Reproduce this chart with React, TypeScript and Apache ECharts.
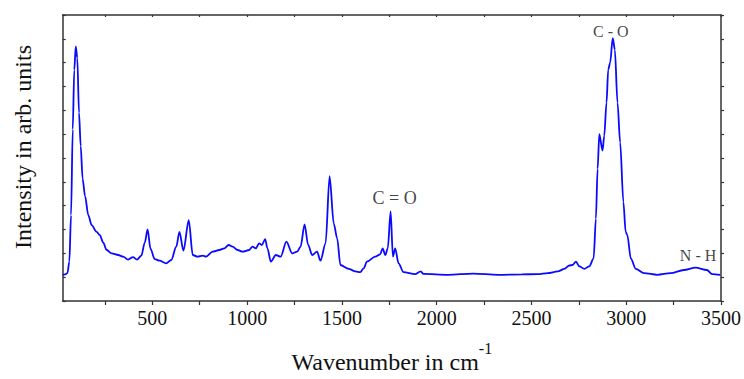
import React, { useEffect, useRef } from "react";
import * as echarts from "echarts";

const wavenumber = [
  27, 40, 52, 62, 71, 80, 88, 96, 104, 113, 122, 132, 145, 162, 180, 206, 223, 241, 258, 285,
  320, 346, 372, 398, 419, 442, 460, 475, 490, 512, 538, 573, 600, 626, 643, 664, 692, 713, 739, 766,
  783, 818, 853, 880, 902, 923, 950, 976, 1011, 1028, 1046, 1063, 1078, 1095, 1107, 1125, 1151, 1177, 1207, 1238,
  1264, 1282, 1303, 1322, 1343, 1369, 1387, 1414, 1435, 1457, 1475, 1492, 1536, 1571, 1597, 1615, 1632, 1676, 1702, 1715,
  1729, 1742, 1757, 1769, 1781, 1799, 1825, 1886, 1916, 1930, 2061, 2193, 2324, 2450, 2534, 2586, 2639, 2674, 2700, 2717,
  2735, 2753, 2779, 2805, 2828, 2840, 2849, 2858, 2875, 2884, 2896, 2905, 2915, 2929, 2940, 2954, 2968, 2985, 2997, 3006,
  3024, 3050, 3094, 3164, 3234, 3304, 3365, 3426, 3453, 3496,
];

const intensity = [
  1.1, 1.12, 1.17, 1.65, 3.6, 7.2, 9.7, 10.68, 10.2, 7.9, 6.5, 5.13, 4.4, 3.6, 3.18, 2.9, 2.76, 2.45, 2.15, 2.0,
  1.93, 1.86, 1.74, 1.84, 1.74, 1.9, 2.45, 3.0, 2.2, 1.76, 1.69, 1.58, 1.72, 2.28, 2.9, 2.11, 3.39, 1.93, 1.86, 1.9,
  1.86, 2.07, 2.14, 2.21, 2.35, 2.28, 2.14, 2.07, 2.14, 2.28, 2.21, 2.42, 2.35, 2.6, 2.21, 1.65, 1.93, 1.86, 2.49, 2.0,
  2.07, 2.28, 3.21, 2.35, 1.93, 2.07, 1.69, 2.42, 5.24, 3.25, 2.63, 1.51, 1.35, 1.24, 1.21, 1.37, 1.65, 1.86, 1.96, 2.21,
  1.93, 2.21, 3.76, 1.86, 2.21, 1.58, 1.21, 1.125, 1.24, 1.14, 1.1, 1.15, 1.1, 1.12, 1.125, 1.17, 1.24, 1.35, 1.49, 1.51,
  1.65, 1.45, 1.35, 1.45, 1.79, 3.46, 5.54, 7.0, 6.31, 6.93, 8.32, 9.71, 9.99, 11.03, 10.54, 8.32, 6.65, 4.15, 2.9, 2.76,
  1.79, 1.35, 1.17, 1.1, 1.17, 1.3, 1.4, 1.3, 1.125, 1.1,
];

const xTickValues = [250, 500, 750, 1000, 1250, 1500, 1750, 2000, 2250, 2500, 2750, 3000, 3250, 3500];
const xLabelValues = [500, 1000, 1500, 2000, 2500, 3000, 3500];

const annotationNames = ["C = O", "C - O", "N - H"];
const annotationX = [1778, 2919, 3379];
const annotationY = [4.31, 11.31, 1.89];
const annotationSize = [18, 16, 16];

const FONT = "Liberation Serif";
const AXIS_COLOR = "#333";

export default function App() {
  const ref = useRef<HTMLDivElement>(null);

  useEffect(() => {
    if (!ref.current) return;
    const chart = echarts.init(ref.current, undefined, { renderer: "svg" });
    const lineData = wavenumber.map((w, i) => [w, intensity[i]]);
    const annData = annotationNames.map((n, i) => ({
      name: n,
      value: [annotationX[i], annotationY[i]],
      label: { fontSize: annotationSize[i] },
    }));

    const axisLine = { show: true, onZero: false, lineStyle: { color: AXIS_COLOR, width: 1.5 } };

    chart.setOption({
      animation: false,
      textStyle: { fontFamily: FONT },
      grid: { left: 62.7, right: 20, top: 15, bottom: 76, containLabel: false },
      xAxis: [
        {
          type: "value",
          min: 27,
          max: 3500,
          position: "bottom",
          name: "{a|Wavenumber in cm}{b|-1}",
          nameLocation: "middle",
          nameGap: 39,
          nameTextStyle: {
            fontFamily: FONT,
            color: "#111",
            rich: {
              a: { fontSize: 24, fontFamily: FONT, color: "#111", lineHeight: 24, verticalAlign: "bottom" },
              b: { fontSize: 16, fontFamily: FONT, color: "#111", lineHeight: 34, verticalAlign: "top" },
            },
          },
          axisLine,
          axisTick: { show: true, inside: false, length: 4, customValues: xTickValues, lineStyle: { color: AXIS_COLOR, width: 1.2 } },
          axisLabel: {
            show: true,
            customValues: xLabelValues,
            fontSize: 20,
            fontFamily: FONT,
            color: "#111",
            margin: 7,
            formatter: (v: number) => String(v),
          },
          splitLine: { show: false },
        },
        {
          type: "value",
          min: 27,
          max: 3500,
          position: "top",
          axisLine,
          axisTick: { show: true, inside: true, length: 2, customValues: xTickValues, lineStyle: { color: AXIS_COLOR, width: 1.2 } },
          axisLabel: { show: false },
          splitLine: { show: false },
        },
      ],
      yAxis: [
        {
          type: "value",
          min: 0,
          max: 12,
          interval: 1,
          position: "left",
          name: "Intensity in arb. units",
          nameLocation: "middle",
          nameRotate: 90,
          nameGap: 28,
          nameTextStyle: {
            fontSize: 24,
            fontFamily: FONT,
            color: "#111",
            padding: [0, 0, 0, 22],
          },
          axisLine,
          axisTick: { show: true, inside: true, length: 3, lineStyle: { color: AXIS_COLOR, width: 1.2 } },
          axisLabel: { show: false },
          splitLine: { show: false },
        },
        {
          type: "value",
          min: 0,
          max: 12,
          interval: 1,
          position: "right",
          axisLine,
          axisTick: { show: true, inside: false, length: 3, lineStyle: { color: AXIS_COLOR, width: 1.2 } },
          axisLabel: { show: false },
          splitLine: { show: false },
        },
      ],
      series: [
        {
          type: "line",
          data: lineData,
          showSymbol: false,
          smooth: 0.3,
          smoothMonotone: "x",
          lineStyle: { color: "#0a0aff", width: 1.8 },
          z: 3,
        },
        {
          type: "scatter",
          data: annData,
          symbolSize: 0,
          itemStyle: { color: "rgba(0,0,0,0)" },
          silent: true,
          label: {
            show: true,
            position: "inside",
            formatter: "{b}",
            color: "#111",
            fontFamily: FONT,
            align: "center",
            verticalAlign: "middle",
          },
          z: 4,
        },
      ],
    });
    return () => chart.dispose();
  }, []);

  return (
    <div
      ref={ref}
      style={{ position: "fixed", left: 0, top: 0, width: 744, height: 379, background: "#fff" }}
    />
  );
}
